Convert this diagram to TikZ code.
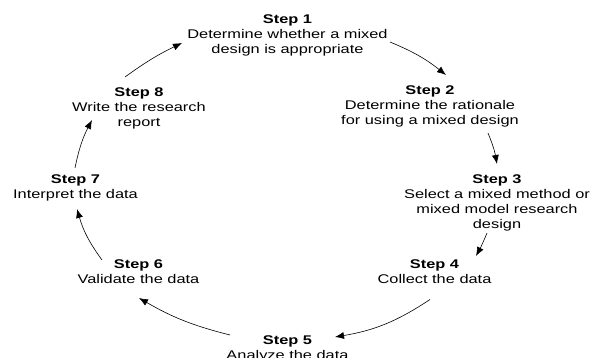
\documentclass[tikz,border=0pt]{standalone}
\usepackage{fontspec}
\setmainfont[FakeStretch=1.3]{Liberation Sans}
\usetikzlibrary{arrows.meta}
\begin{document}
\begin{tikzpicture}[x=1pt,y=1pt,
  stepnode/.style={anchor=north,align=center,inner sep=0pt,
    font=\fontsize{12.6}{15}\selectfont,text=black},
  flow/.style={-{Latex[length=9pt,width=7pt]},line width=0.6pt,black},
]
\useasboundingbox (0,0) rectangle (600,358);
\node[stepnode] (s1) at (287.5,343.9) {\textbf{Step 1}\\Determine whether a mixed\\design is appropriate};
\node[stepnode] (s2) at (430,272.2) {\textbf{Step 2}\\Determine the rationale\\for using a mixed design};
\node[stepnode] (s3) at (497,183.9) {\textbf{Step 3}\\Select a mixed method or\\mixed model research\\design};
\node[stepnode] (s4) at (434.5,98.2) {\textbf{Step 4}\\Collect the data};
\node[stepnode] (s5) at (287.5,22.9) {\textbf{Step 5}\\Analyze the data};
\node[stepnode] (s6) at (138.5,98.9) {\textbf{Step 6}\\Validate the data};
\node[stepnode] (s7) at (75.5,183.9) {\textbf{Step 7}\\Interpret the data};
\node[stepnode] (s8) at (139,270.5) {\textbf{Step 8}\\Write the research\\report};
% connector end points
\coordinate (a1) at (390,316);
\coordinate (b1) at (446,283);
\coordinate (a2) at (488,225);
\coordinate (b2) at (497,194);
\coordinate (a3) at (487,125);
\coordinate (b3) at (476,102);
\coordinate (a4) at (430,58.5);
\coordinate (b4) at (335,21);
\coordinate (a5) at (230,23);
\coordinate (b5) at (139,60);
\coordinate (a6) at (102,98);
\coordinate (b6) at (77,149);
\coordinate (a7) at (75,190);
\coordinate (b7) at (92,238);
\coordinate (a8) at (125,281);
\coordinate (b8) at (182,315);
\draw[flow] (a1) to[bend left=8] (b1);
\draw[flow] (a2) to[bend left=6] (b2);
\draw[flow] (a3) to[bend left=3] (b3);
\draw[flow] (a4) to[bend left=12] (b4);
\draw[flow] (a5) to[bend left=8] (b5);
\draw[flow] (a6) to[bend left=10] (b6);
\draw[flow] (a7) to[bend left=8] (b7);
\draw[flow] (a8) to[bend left=5] (b8);
\end{tikzpicture}
\end{document}
